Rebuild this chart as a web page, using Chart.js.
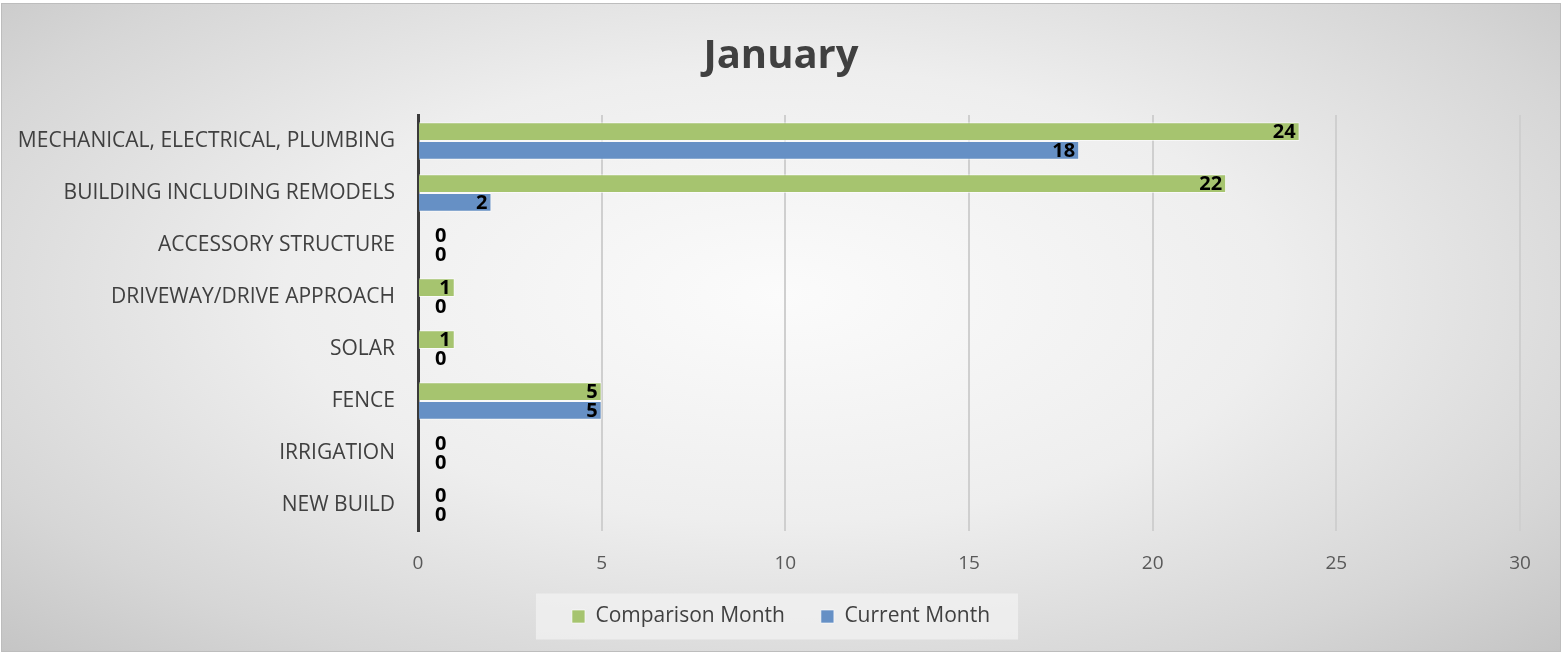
<!DOCTYPE html>
<html>
<head>
<meta charset="utf-8">
<script src="https://cdn.jsdelivr.net/npm/chart.js@4/dist/chart.umd.min.js"></script>
<style>
  body { margin: 0; background: #fff; }
  #wrap {
    position: absolute; left: 1px; top: 3px;
    width: 1558px; height: 647px;
    border: 1px solid #bdbdbd;
    background: radial-gradient(ellipse at 50% 45%, #fbfbfb 0%, #eeeeee 45%, #d6d6d6 80%, #c5c5c5 100%);
  }
</style>
</head>
<body>
<div id="wrap"><canvas id="permitChart"></canvas></div>
<script>
const categories = ['MECHANICAL, ELECTRICAL, PLUMBING', 'BUILDING INCLUDING REMODELS', 'ACCESSORY STRUCTURE',
  'DRIVEWAY/DRIVE APPROACH', 'SOLAR', 'FENCE', 'IRRIGATION', 'NEW BUILD'];
const comparisonMonth = [24, 22, 0, 1, 1, 5, 0, 0];
const currentMonth = [18, 2, 0, 0, 0, 5, 0, 0];
const xTicks = [0, 5, 10, 15, 20, 25, 30];

const FONT = "'Open Sans', sans-serif";
const LEGEND_SIZE = 21;

// value labels at the end of each bar, Excel style
const barLabels = {
  id: 'barLabels',
  afterDatasetsDraw(chart) {
    const ctx = chart.ctx;
    ctx.save();
    ctx.font = 'bold 20px ' + FONT;
    ctx.fillStyle = '#000';
    ctx.textBaseline = 'middle';
    chart.data.datasets.forEach((ds, i) => {
      chart.getDatasetMeta(i).data.forEach((bar, j) => {
        const v = ds.data[j];
        if (v > 0) {
          ctx.textAlign = 'right';
          ctx.fillText(String(v), Math.max(bar.x - 4, bar.base + 29), bar.y + 1);
        } else {
          ctx.textAlign = 'left';
          ctx.fillText(String(v), bar.base + 17, bar.y + 1);
        }
      });
    });
    ctx.restore();
  }
};

// light box behind the legend, and let the x tick labels run into the legend's top padding
const legendBox = {
  id: 'legendBox',
  afterLayout(chart) {
    chart.scales.x.bottom = chart.legend.bottom;
  },
  beforeDraw(chart) {
    const boxes = chart.legend.legendHitBoxes;
    if (!boxes || !boxes.length) return;
    const left = Math.min(...boxes.map(b => b.left)) - 36;
    const right = Math.max(...boxes.map(b => b.left + b.width)) + 28;
    const top = boxes[0].top + LEGEND_SIZE / 2 - 23;
    const ctx = chart.ctx;
    ctx.save();
    ctx.fillStyle = 'rgba(242,242,242,0.75)';
    ctx.fillRect(left, top, right - left, 46);
    ctx.restore();
  }
};

new Chart(document.getElementById('permitChart'), {
  type: 'bar',
  data: {
    labels: categories,
    datasets: [{
      label: 'Comparison Month',
      data: comparisonMonth,
      backgroundColor: '#a6c46f',
      borderColor: 'rgba(255,255,255,0.6)',
      borderWidth: 1,
      categoryPercentage: 0.72,
      barPercentage: 1.0
    }, {
      label: 'Current Month',
      data: currentMonth,
      backgroundColor: '#6690c5',
      borderColor: 'rgba(255,255,255,0.6)',
      borderWidth: 1,
      categoryPercentage: 0.72,
      barPercentage: 1.0
    }]
  },
  options: {
    indexAxis: 'y',
    responsive: true,
    maintainAspectRatio: false,
    animation: false,
    layout: { padding: { left: 0, right: 0, top: 0, bottom: 14 } },
    plugins: {
      title: {
        display: true,
        text: 'January',
        color: '#404040',
        font: { family: FONT, size: 40, weight: 'bold' },
        padding: { top: 29, bottom: 34 }
      },
      legend: {
        position: 'bottom',
        labels: {
          color: '#404040',
          font: { family: FONT, size: LEGEND_SIZE },
          boxWidth: 13,
          boxHeight: 13,
          padding: 36
        }
      },
      tooltip: { enabled: false }
    },
    scales: {
      x: {
        min: 0,
        max: 30,
        afterBuildTicks(scale) { scale.ticks = xTicks.map(v => ({ value: v })); },
        afterFit(scale) { scale.height = 39; },
        grid: { color: '#cfcfcf', lineWidth: 2, drawTicks: false },
        border: { display: false },
        ticks: { color: '#595959', font: { family: FONT, size: 19 }, padding: 21 }
      },
      y: {
        afterFit(scale) { scale.width = 416; },
        grid: { display: false },
        border: { color: '#3a3a3a', width: 3 },
        ticks: { color: '#404040', font: { family: FONT, size: 21 }, padding: 15 }
      },
      // empty right margin so title and legend center on the full width
      margin: {
        type: 'linear',
        position: 'right',
        afterFit(scale) { scale.width = 40; },
        grid: { display: false },
        border: { display: false },
        ticks: { display: false }
      }
    }
  },
  plugins: [legendBox, barLabels]
});
</script>
</body>
</html>
